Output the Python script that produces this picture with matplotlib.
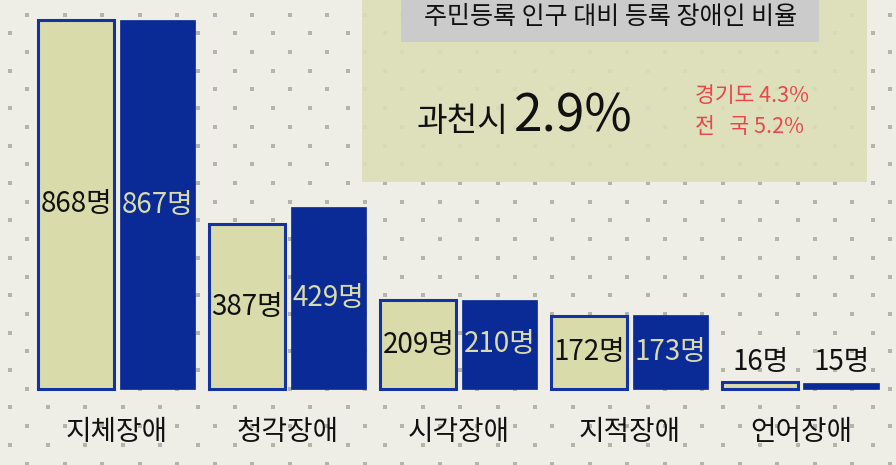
import numpy as np
import matplotlib.pyplot as plt

plt.rcParams['font.family'] = ['Noto Sans CJK KR', 'DejaVu Sans']

categories = ['지체장애', '청각장애', '시각장애', '지적장애', '언어장애']
light_vals = [868, 387, 209, 172, 16]
dark_vals = [867, 429, 210, 173, 15]

title = '주민등록 인구 대비 등록 장애인 비율'
city_name = '과천시'
city_rate = '2.9%'
compare_lines = ['경기도 4.3%', '전   국 5.2%']

bg_col = '#eeeee7'
light_col = '#d9dbab'
dark_col = '#0a2a96'
edge_col = '#1433a3'
box_col = '#dcdfb6'
red_col = '#e8474c'

fig = plt.figure(figsize=(8.96, 4.65), dpi=100)
fig.patch.set_facecolor(bg_col)

# background dotted texture (pixel coordinates)
bg = fig.add_axes([0, 0, 1, 1], zorder=0)
bg.set_xlim(0, 896)
bg.set_ylim(465, 0)
bg.axis('off')
rows = np.arange(-4, 470, 18.7)
for i, yy in enumerate(rows):
    xs = np.arange(10 + (17 if i % 2 else 0) - 37.5 * 2, 900, 37.5)
    bg.scatter(xs, np.full_like(xs, yy), s=11, marker='s', color='#b4b4ac',
               linewidths=0)

# info box
bg.add_patch(plt.Rectangle((362, -1), 505, 183, color=box_col, alpha=0.9,
                           zorder=3, linewidth=0))
bg.add_patch(plt.Rectangle((401, -1), 418, 43, color='#cbcbcb', zorder=4,
                           linewidth=0))

ax = fig.add_axes([0, 0, 1, 1], zorder=2)
ax.patch.set_alpha(0)
ax.axis('off')

x = np.arange(len(categories))
off = 0.237
w = 0.444
ax.bar(x - off, light_vals, w, color=light_col, edgecolor=edge_col,
       linewidth=2.2)
ax.bar(x + off, dark_vals, w, color=dark_col, edgecolor=dark_col,
       linewidth=0.5)
ax.set_xlim(-0.684, 4.556)
ax.set_ylim(-178.8, 915)

for xi, v in zip(x - off, light_vals):
    if v > 100:
        ax.text(xi, v / 2, f'{v}명', ha='center', va='center', fontsize=20,
                color='#111111')
    else:
        ax.annotate(f'{v}명', (xi, v), xytext=(0, 4), textcoords='offset points',
                    ha='center', va='bottom', fontsize=20, color='#111111')
for xi, v in zip(x + off, dark_vals):
    if v > 100:
        ax.text(xi, v / 2, f'{v}명', ha='center', va='center', fontsize=20,
                color=light_col)
    else:
        ax.annotate(f'{v}명', (xi, v), xytext=(0, 4), textcoords='offset points',
                    ha='center', va='bottom', fontsize=20, color='#111111')

for xi, c in zip(x, categories):
    ax.annotate(c, (xi, 0), xytext=(0, -31), textcoords='offset points',
                ha='center', va='center', fontsize=20, color='#111111')

ax.text(0.681, 0.963, title, transform=ax.transAxes, ha='center',
        va='center', fontsize=18, color='#111111')
ax.text(0.465, 0.718, city_name, transform=ax.transAxes, ha='left',
        va='baseline', fontsize=24, color='#111111')
ax.text(0.574, 0.718, city_rate, transform=ax.transAxes, ha='left',
        va='baseline', fontsize=37, color='#111111')
ax.text(0.776, 0.781, compare_lines[0], transform=ax.transAxes, ha='left',
        va='baseline', fontsize=15.5, color=red_col)
ax.text(0.776, 0.714, compare_lines[1], transform=ax.transAxes, ha='left',
        va='baseline', fontsize=15.5, color=red_col)

fig.savefig('out.png', dpi=100, facecolor=fig.get_facecolor())
